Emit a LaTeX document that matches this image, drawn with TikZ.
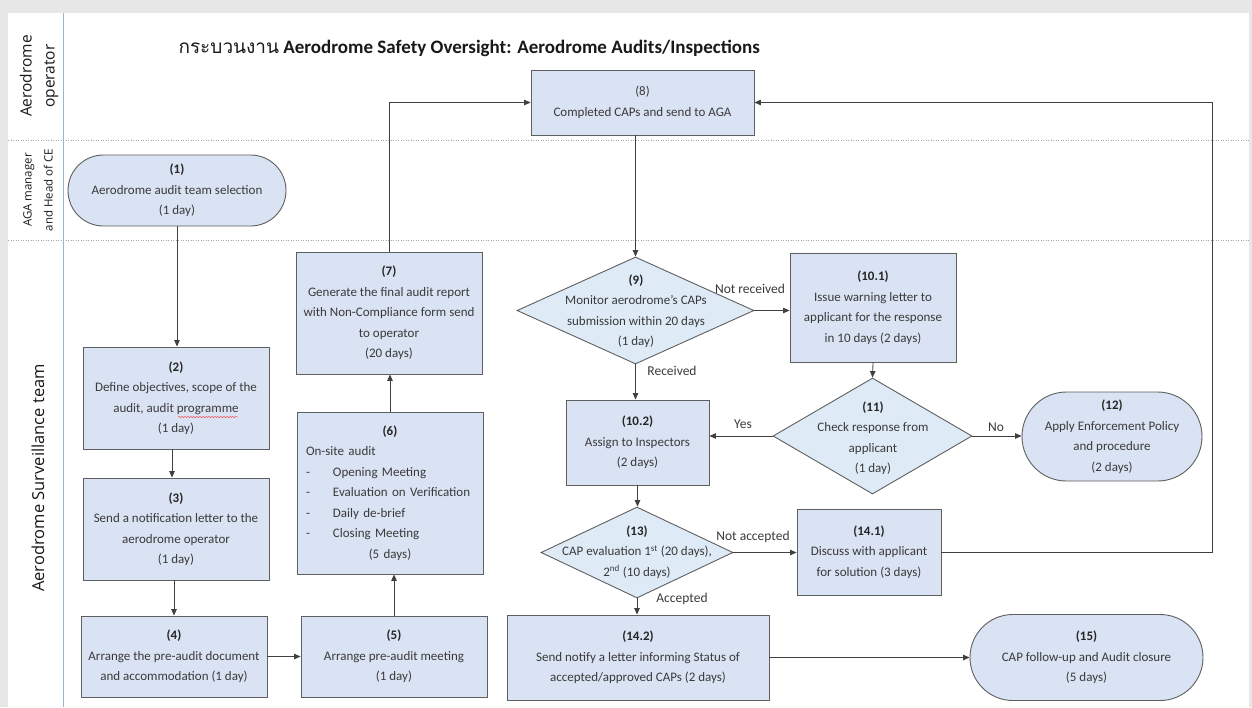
\documentclass[tikz,border=0pt]{standalone}
\usepackage{fontspec}
\setmainfont{Carlito}
\newfontfamily\thaifont[Script=Thai]{Loma}
\newfontfamily\lanefont{Open Sans}
\usetikzlibrary{arrows.meta,shapes.geometric,decorations.pathmorphing}

\definecolor{boxfill}{HTML}{DAE3F3}
\definecolor{diafill}{HTML}{DEEBF7}
\definecolor{boxline}{HTML}{5F5F5F}
\definecolor{txtgray}{HTML}{3A3A3A}
\definecolor{bggray}{HTML}{E7E7E7}
\definecolor{lanevert}{HTML}{9DB3D6}
\definecolor{dotgray}{HTML}{A6A6A6}

\newcommand{\bodyfont}{\fontsize{13}{20.5}\selectfont}
\newcommand{\num}[1]{{\bfseries\color{black!85}#1}}

\tikzset{
  box/.style={draw=boxline, fill=boxfill, line width=0.9pt, inner sep=0pt,
              align=center, text=txtgray, font=\bodyfont},
  stadium/.style={box, rounded corners=#1},
  dia/.style={draw=boxline, fill=diafill, line width=0.9pt, diamond,
              inner sep=0pt},
  diatext/.style={align=center, text=txtgray, font=\bodyfont, inner sep=0pt},
  flow/.style={draw=black!75, line width=0.8pt,
               -{Triangle[length=6.5pt,width=5.5pt]}},
  edgelabel/.style={text=txtgray, font=\fontsize{13.5}{15}\selectfont, inner sep=0pt},
  lanelabel/.style={rotate=90, align=center, text=black!90},
  sepline/.style={draw=dotgray, line width=0.5pt, dotted},
}

\begin{document}
\begin{tikzpicture}[x=1pt, y=-1pt]
% page and frame
\fill[bggray] (0,0) rectangle (1252,707);
\fill[white] (8,13) rectangle (1249,707);
\useasboundingbox (0,0) rectangle (1252,707);

% swimlane separators
\draw[sepline] (8,140) -- (1249,140);
\draw[sepline] (8,240) -- (1249,240);
\draw[lanevert, line width=0.8pt] (63,13) -- (63,707);

% lane headers
\node[lanelabel, font=\lanefont\fontsize{15.5}{23}\selectfont] (laneop) at (39,76) {Aerodrome\\operator};
\node[lanelabel, font=\lanefont\fontsize{11.5}{21}\selectfont] (laneaga) at (38,190) {AGA manager\\and Head of CE};
\node[lanelabel, font=\lanefont\fontsize{16.5}{20}\selectfont] (lanesurv) at (38,478) {Aerodrome Surveillance team};

% title
\node[anchor=west, font=\fontsize{19}{22}\selectfont\bfseries, text=black!90] (title) at (175,48)
  {{\thaifont\mdseries กระบวนงาน} Aerodrome Safety Oversight: Aerodrome Audits/Inspections};

% process steps
\node[stadium=35.4pt, minimum width=218pt, minimum height=71pt] (n1) at (177,190.5)
  {\num{(1)}\\Aerodrome audit team selection\\(1 day)};
\node[box, minimum width=186pt, minimum height=102pt] (n2) at (176,398)
  {\num{(2)}\\Define objectives, scope of the\\audit, audit programme\\(1 day)};
\node[box, minimum width=186pt, minimum height=102pt] (n3) at (176,529)
  {\num{(3)}\\Send a notification letter to the\\aerodrome operator\\(1 day)};
\node[box, minimum width=186pt, minimum height=81pt] (n4) at (174,656.5)
  {\num{(4)}\\Arrange the pre-audit document\\and accommodation (1 day)};
\node[box, minimum width=186pt, minimum height=81pt] (n5) at (394,656.5)
  {\num{(5)}\\Arrange pre-audit meeting\\(1 day)};
\node[box, minimum width=186pt, minimum height=162pt, align=left, text width=168pt] (n6) at (390,493)
  {\makebox[168pt]{\num{(6)}}\\
   On-site audit\\
   -\hspace{23pt}Opening Meeting\\
   -\hspace{23pt}Evaluation on Verification\\
   -\hspace{23pt}Daily de-brief\\
   -\hspace{23pt}Closing Meeting\\
   \makebox[168pt]{(5 days)}};
\node[box, minimum width=186pt, minimum height=122pt] (n7) at (389,313)
  {\num{(7)}\\Generate the final audit report\\with Non-Compliance form send\\to operator\\(20 days)};
\node[box, minimum width=223pt, minimum height=65pt] (n8) at (642.5,102.5)
  {(8)\\Completed CAPs and send to AGA};

\node[dia, minimum width=237pt, minimum height=107pt] (n9) at (635.5,310.5) {};
\node[diatext] (n9t) at (636,311) {\num{(9)}\\Monitor aerodrome's CAPs\\submission within 20 days\\(1 day)};

\node[box, minimum width=166pt, minimum height=109pt] (n101) at (873,307.5)
  {\num{(10.1)}\\Issue warning letter to\\applicant for the response\\in 10 days (2 days)};
\node[box, minimum width=143pt, minimum height=85pt] (n102) at (637.5,442.5)
  {\num{(10.2)}\\Assign to Inspectors\\(2 days)};

\node[dia, minimum width=199pt, minimum height=116pt] (n11) at (872.5,436) {};
\node[diatext] (n11t) at (873,438) {\num{(11)}\\Check response from\\applicant\\(1 day)};

\node[stadium=44.4pt, minimum width=180pt, minimum height=89pt] (n12) at (1112,436.5)
  {\num{(12)}\\Apply Enforcement Policy\\and procedure\\(2 days)};

\node[dia, minimum width=192pt, minimum height=91pt] (n13) at (637,552.5) {};
\node[diatext] (n13t) at (637,552) {\num{(13)}\\CAP evaluation 1\textsuperscript{st} (20 days),\\2\textsuperscript{nd} (10 days)};

\node[box, minimum width=144pt, minimum height=86pt] (n141) at (869,552)
  {\num{(14.1)}\\Discuss with applicant\\for solution (3 days)};
\node[box, minimum width=262pt, minimum height=85pt] (n142) at (638,657.5)
  {\num{(14.2)}\\Send notify a letter informing Status of\\accepted/approved CAPs (2 days)};
\node[stadium=42.9pt, minimum width=233pt, minimum height=86pt] (n15) at (1086.5,657.5)
  {\num{(15)}\\CAP follow-up and Audit closure\\(5 days)};

% spelling mark under "programme"
\draw[red!80, line width=0.4pt, decorate, decoration={snake, amplitude=0.6pt, segment length=3pt}]
  (178,417) -- (238,417);

% connectors
\draw[flow] (n1.south) -- (n1.south |- n2.north);
\draw[flow] ([xshift=-4pt]n2.south) -- ([xshift=-4pt]n3.north);
\draw[flow] ([xshift=-2pt]n3.south) -- ([xshift=-2pt]n3.south |- n4.north);
\draw[flow] (n4.east) -- (n4.east -| n5.west);
\draw[flow] (n5.north) -- (n5.north |- n6.south);
\draw[flow] (n6.north) -- (n6.north |- n7.south);
\draw[flow] (n7.north) |- (n8.west);
\draw[flow] (n8.south -| n9.north) -- (n9.north);
\draw[flow] (n9.east) -- (n9.east -| n101.west);
\draw[flow] (n9.south) -- (n9.south |- n102.north);
\draw[flow] (n101.south) -- (n11.north);
\draw[flow] (n11.west) -- (n11.west -| n102.east);
\draw[flow] (n11.east) -- (n11.east -| n12.west);
\draw[flow] (n102.south) -- (n102.south |- n13.north);
\draw[flow] (n13.east) -- (n13.east -| n141.west);
\draw[flow] (n13.south) -- (n13.south |- n142.north);
\draw[flow] (n142.east) -- (n142.east -| n15.west);
\coordinate (ret) at (1212,552);
\draw[flow] (n141.east) -- (n141.east -| ret) |- (n8.east);

% connector labels
\node[edgelabel] (lnr) at (750,289) {Not received};
\node[edgelabel] (lrc) at (672,371) {Received};
\node[edgelabel] (lyes) at (743,424) {Yes};
\node[edgelabel] (lno) at (996,427) {No};
\node[edgelabel] (lna) at (753,537) {Not accepted};
\node[edgelabel] (lacc) at (682,599) {Accepted};
\end{tikzpicture}
\end{document}
